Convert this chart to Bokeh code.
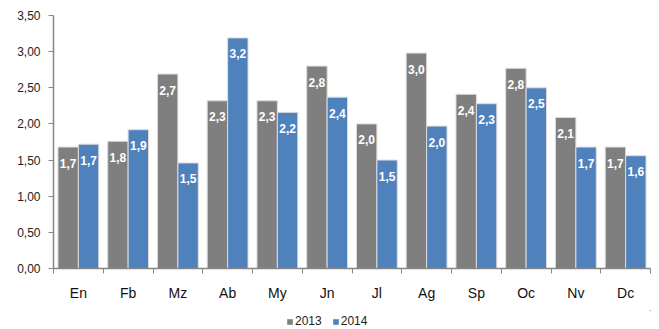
import numpy as np
from bokeh.plotting import figure
from bokeh.layouts import column
from bokeh.models import (ColumnDataSource, FixedTicker, CustomJSTickFormatter,
                          Legend, LegendItem, Range1d)
from bokeh.core.properties import value
from bokeh.embed import file_html
from bokeh.resources import INLINE

months = ["En", "Fb", "Mz", "Ab", "My", "Jn", "Jl", "Ag", "Sp", "Oc", "Nv", "Dc"]
v2013 = [1.68, 1.76, 2.69, 2.32, 2.32, 2.80, 2.00, 2.98, 2.41, 2.77, 2.09, 1.68]
v2014 = [1.72, 1.92, 1.46, 3.19, 2.16, 2.37, 1.50, 1.97, 2.28, 2.50, 1.68, 1.56]
series = ["2013", "2014"]
colors = ["#7f7f7f", "#4f81bd"]
y_ticks = [0.0, 0.5, 1.0, 1.5, 2.0, 2.5, 3.0, 3.5]

FONT = "Liberation Sans"
n = len(months)
centers = np.arange(n) + 0.5
offsets = [-0.205, 0.205]
bar_w = 0.41

p = figure(width=659, height=310, output_backend="svg", toolbar_location=None,
           x_range=Range1d(0, n), y_range=Range1d(0, 3.5),
           min_border_left=53, min_border_right=9, min_border_top=15,
           min_border_bottom=42)
p.outline_line_color = None
p.xgrid.visible = False
p.ygrid.visible = False

sources = []
for vals, name, col, off in zip([v2013, v2014], series, colors, offsets):
    src = ColumnDataSource(dict(
        x=centers + off, top=vals,
        lab=[f"{v:.1f}".replace(".", ",") for v in vals]))
    sources.append(src)
    p.vbar(x="x", top="top", width=bar_w, bottom=0, source=src,
           fill_color=col, line_color="#dcdcdc", line_width=1)
    p.text(x="x", y="top", text="lab", source=src, text_align="center",
           text_baseline="middle", y_offset=16, text_color="white",
           text_font_style="bold", text_font_size="12px",
           text_font=value(FONT))

# y axis
ya = p.yaxis[0]
ya.ticker = FixedTicker(ticks=y_ticks, minor_ticks=[])
ya.formatter = CustomJSTickFormatter(code="return tick.toFixed(2).replace('.', ',');")
ya.axis_line_color = "#868686"
ya.axis_line_width = 1.5
ya.major_tick_line_color = "#868686"
ya.major_tick_out = 5
ya.major_tick_in = 0
ya.minor_tick_line_color = None
ya.major_label_text_font = FONT
ya.major_label_text_font_size = "12px"
ya.major_label_text_color = "#222222"
ya.major_label_standoff = 8

# x axis: labels at centers, ticks at category boundaries
xa = p.xaxis[0]
xa.ticker = FixedTicker(ticks=list(centers), minor_ticks=list(np.arange(n + 1)))
xa.formatter = CustomJSTickFormatter(
    code="const m = %s; return m[Math.floor(tick)];" % str(months))
xa.axis_line_color = "#868686"
xa.axis_line_width = 1.5
xa.major_tick_line_color = None
xa.minor_tick_line_color = "#868686"
xa.minor_tick_out = 5
xa.minor_tick_in = 0
xa.major_label_text_font = FONT
xa.major_label_text_font_size = "14px"
xa.major_label_text_color = "#111111"
xa.major_label_standoff = 10

# legend strip underneath (its bars lie far outside its visible ranges)
lg = figure(width=659, height=19, output_backend="svg", toolbar_location=None,
            x_range=Range1d(-100, -99), y_range=Range1d(-100, -99), min_border=0,
            x_axis_location=None, y_axis_location=None)
lg.outline_line_color = None
lg.grid.visible = False
items = []
for src, name, col in zip(sources, series, colors):
    r = lg.vbar(x="x", top="top", bottom=0, width=bar_w, source=src,
                fill_color=col, line_color=None)
    items.append(LegendItem(label=name, renderers=[r]))
legend = Legend(items=items, orientation="horizontal", location=(233, 1),
                glyph_width=7, glyph_height=7, label_standoff=2, spacing=10,
                padding=0, margin=0, border_line_color=None,
                label_text_font=FONT, label_text_font_size="12px",
                label_height=12, label_text_color="#222222",
                background_fill_alpha=0)
lg.add_layout(legend)

open("out.html", "w").write(file_html(column(p, lg, spacing=0), INLINE))
